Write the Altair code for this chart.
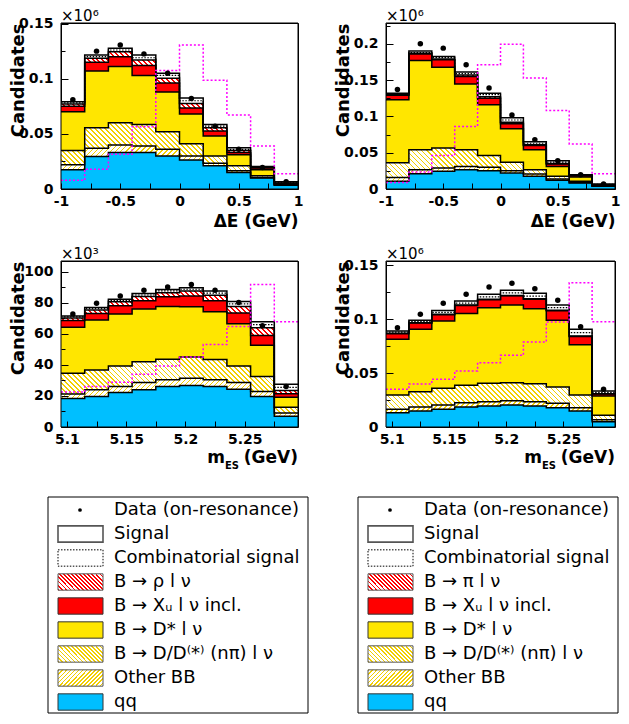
import altair as alt
import numpy as np
import pandas as pd

FONT = "DejaVu Sans"
BLUE = "#00bfff"
YEL = "#ffe600"
HYEL = "#f2cf00"
RED = "#ff0000"
MAG = "#ff00ff"

BANDS = ["qq", "obb", "dd", "dst", "xu", "excl", "comb", "sig"]

de_edges = [-1.0, -0.8, -0.6, -0.4, -0.2, 0.0, 0.2, 0.4, 0.6, 0.8, 1.0]
mes_edges = [5.095, 5.115, 5.135, 5.155, 5.175, 5.195, 5.215, 5.235, 5.255, 5.275, 5.295]

# ---- Panel A: B -> rho l nu, Delta E  (x 10^6) ----
rde_qq   = [0.0174, 0.0294, 0.0330, 0.0330, 0.0300, 0.0264, 0.0210, 0.0150, 0.0100, 0.0033]
rde_obb  = [0.0046, 0.0076, 0.0070, 0.0060, 0.0060, 0.0036, 0.0024, 0.0015, 0.0005, 0.0003]
rde_dd   = [0.0130, 0.0185, 0.0200, 0.0195, 0.0160, 0.0110, 0.0066, 0.0045, 0.0015, 0.0004]
rde_dst  = [0.0350, 0.0515, 0.0510, 0.0445, 0.0360, 0.0270, 0.0180, 0.0100, 0.0054, 0.0005]
rde_xu   = [0.0050, 0.0080, 0.0090, 0.0090, 0.0080, 0.0055, 0.0045, 0.0020, 0.0016, 0.0005]
rde_excl = [0.0020, 0.0035, 0.0045, 0.0050, 0.0045, 0.0040, 0.0030, 0.0020, 0.0007, 0.0005]
rde_comb = [0.0010, 0.0015, 0.0015, 0.0020, 0.0025, 0.0025, 0.0015, 0.0010, 0.0003, 0.0005]
rde_sig  = [0.0010, 0.0015, 0.0015, 0.0025, 0.0020, 0.0025, 0.0015, 0.0015, 0.0004, 0.0006]
rde_data = [0.0810, 0.1250, 0.1305, 0.1225, 0.1050, 0.0820, 0.0570, 0.0360, 0.0195, 0.0066]
rde_mag  = [0.0080, 0.0180, 0.0315, 0.0565, 0.1075, 0.1305, 0.0985, 0.0670, 0.0390, 0.0138]

# ---- Panel B: B -> pi l nu, Delta E  (x 10^6) ----
pde_qq   = [0.0106, 0.0210, 0.0243, 0.0266, 0.0250, 0.0220, 0.0174, 0.0120, 0.0083, 0.0037]
pde_obb  = [0.0054, 0.0056, 0.0047, 0.0044, 0.0050, 0.0030, 0.0033, 0.0018, 0.0007, 0.0003]
pde_dd   = [0.0200, 0.0274, 0.0275, 0.0230, 0.0160, 0.0120, 0.0059, 0.0036, 0.0016, 0.0003]
pde_dst  = [0.0870, 0.1230, 0.1110, 0.0905, 0.0700, 0.0460, 0.0274, 0.0136, 0.0059, 0.0007]
pde_xu   = [0.0060, 0.0090, 0.0105, 0.0105, 0.0090, 0.0070, 0.0060, 0.0034, 0.0019, 0.0005]
pde_excl = [0.0010, 0.0010, 0.0010, 0.0020, 0.0020, 0.0020, 0.0010, 0.0006, 0.0004, 0.0005]
pde_comb = [0.0010, 0.0010, 0.0020, 0.0020, 0.0030, 0.0030, 0.0020, 0.0020, 0.0004, 0.0004]
pde_sig  = [0.0010, 0.0020, 0.0015, 0.0020, 0.0020, 0.0030, 0.0020, 0.0020, 0.0005, 0.0005]
pde_data = [0.1370, 0.2000, 0.1940, 0.1710, 0.1390, 0.1020, 0.0680, 0.0390, 0.0197, 0.0069]
pde_mag  = [0.0090, 0.0234, 0.0460, 0.0860, 0.1710, 0.1995, 0.1530, 0.1080, 0.0620, 0.0210]

# ---- Panel C: B -> rho l nu, mES  (x 10^3) ----
rms_qq   = [18.3, 19.7, 22.3, 24.0, 26.1, 26.8, 26.1, 24.4, 19.7, 7.0]
rms_obb  = [2.9, 4.3, 3.8, 4.7, 4.3, 4.6, 4.3, 4.3, 3.2, 2.1]
rms_dd   = [13.4, 12.7, 13.2, 13.3, 13.3, 13.8, 13.1, 10.6, 9.6, 3.6]
rms_dst  = [29.7, 32.3, 33.5, 34.0, 34.0, 32.3, 30.8, 27.2, 20.2, 6.4]
rms_xu   = [4.3, 4.2, 5.3, 5.3, 6.2, 7.0, 7.0, 7.0, 6.3, 2.3]
rms_excl = [1.7, 2.2, 2.6, 2.8, 2.7, 3.2, 3.6, 4.2, 4.9, 2.2]
rms_comb = [0.7, 0.9, 0.9, 1.0, 1.1, 1.1, 1.4, 1.7, 2.1, 2.0]
rms_sig  = [0.5, 0.7, 0.8, 0.9, 1.0, 1.0, 1.4, 1.5, 1.9, 2.0]
rms_data = [72.8, 79.8, 84.5, 88.1, 90.2, 91.9, 88.1, 80.3, 65.2, 26.1]
rms_mag  = [22.5, 26.1, 28.9, 34.0, 39.3, 45.2, 53.1, 64.8, 91.9, 67.9]

# ---- Panel D: B -> pi l nu, mES  (x 10^6) ----
pms_qq   = [0.0133, 0.0148, 0.0164, 0.0186, 0.0195, 0.0204, 0.0195, 0.0179, 0.0148, 0.0049]
pms_obb  = [0.0031, 0.0038, 0.0040, 0.0040, 0.0040, 0.0040, 0.0040, 0.0041, 0.0031, 0.0019]
pms_dd   = [0.0133, 0.0142, 0.0155, 0.0161, 0.0170, 0.0167, 0.0167, 0.0151, 0.0118, 0.0040]
pms_dst  = [0.0516, 0.0578, 0.0624, 0.0667, 0.0702, 0.0721, 0.0696, 0.0619, 0.0467, 0.0180]
pms_xu   = [0.0052, 0.0059, 0.0059, 0.0074, 0.0073, 0.0085, 0.0088, 0.0088, 0.0076, 0.0018]
pms_excl = [0.0004, 0.0003, 0.0003, 0.0004, 0.0004, 0.0004, 0.0004, 0.0004, 0.0004, 0.0003]
pms_comb = [0.0011, 0.0012, 0.0018, 0.0018, 0.0023, 0.0024, 0.0025, 0.0025, 0.0031, 0.0013]
pms_sig  = [0.0010, 0.0010, 0.0017, 0.0019, 0.0024, 0.0023, 0.0025, 0.0025, 0.0031, 0.0012]
pms_data = [0.0920, 0.1045, 0.1147, 0.1231, 0.1299, 0.1333, 0.1283, 0.1175, 0.0931, 0.0350]
pms_mag  = [0.0350, 0.0400, 0.0442, 0.0520, 0.0597, 0.0665, 0.0788, 0.0974, 0.1339, 0.0977]

# ---- axis tick labels ----
de_labels = [-1, -0.5, 0, 0.5, 1]
de_ticks = [-1, -0.75, -0.5, -0.25, 0, 0.25, 0.5, 0.75, 1]
mes_labels = [5.1, 5.15, 5.2, 5.25]
mes_ticks = [5.1, 5.125, 5.15, 5.175, 5.2, 5.225, 5.25, 5.275]
yA_labels = [0, 0.05, 0.1, 0.15]
yA_minor = [0.025, 0.075, 0.125]
yB_labels = [0, 0.05, 0.1, 0.15, 0.2]
yB_minor = [0.025, 0.075, 0.125, 0.175, 0.225]
yC_labels = [0, 20, 40, 60, 80, 100]
yC_minor = [10, 30, 50, 70, 90]

LEG_ITEMS = ["data", "sig", "comb", "excl", "xu", "dst", "dd", "obb", "qq"]
LEG_L = ["Data (on-resonance)", "Signal", "Combinatorial signal", "B → ρ l ν",
         "B → Xᵤ l ν incl.", "B → D* l ν", "B → D/D⁽*⁾ (nπ) l ν", "Other BB", "qq"]
LEG_R = ["Data (on-resonance)", "Signal", "Combinatorial signal", "B → π l ν",
         "B → Xᵤ l ν incl.", "B → D* l ν", "B → D/D⁽*⁾ (nπ) l ν", "Other BB", "qq"]


def hatch(color, direction, W, H, period=5.0, frac=0.3):
    """Striped linear gradient imitating a ROOT hatch fill (45 degree lines)."""
    H = max(float(H), 1.0)
    r = W / H
    n = max(1, int(round((W + H) / period)))
    vy = (r + 1) / (r * r + 1)
    vx = r * vy
    if direction == "/":
        x1, y1, x2, y2 = 0, 0, vx, vy
    else:
        x1, y1, x2, y2 = 0, 1, vx, 1 - vy
    stops = []
    for k in range(n):
        a, b, c = k / n, (k + frac) / n, (k + 1) / n
        stops += [alt.GradientStop(color=color, offset=a),
                  alt.GradientStop(color=color, offset=b),
                  alt.GradientStop(color="white", offset=b),
                  alt.GradientStop(color="white", offset=c)]
    return alt.Gradient(gradient="linear", stops=stops, x1=x1, y1=y1, x2=x2, y2=y2)


def cum_bands(comps):
    lo = np.zeros(10)
    out = {}
    for b in BANDS:
        hi = lo + np.asarray(comps[b], dtype=float)
        out[b] = (lo.copy(), hi.copy())
        lo = hi
    return out


def band_df(edges, bands):
    rows = []
    for b in BANDS:
        lo, hi = bands[b]
        for i, e in enumerate(edges):
            j = min(i, 9)
            rows.append({"band": b, "x": e, "lo": float(lo[j]), "hi": float(hi[j])})
    return pd.DataFrame(rows)


def make_panel(edges, comps, data, mag, ymax, W, H, xlab, xtick, ylab, yminor, mult, kind):
    bands = cum_bands(comps)
    df = band_df(edges, bands)
    xs = alt.Scale(domain=[edges[0], edges[-1]], nice=False, zero=False)
    ys = alt.Scale(domain=[0, ymax], nice=False, zero=True)
    lab = dict(labelFont=FONT, labelFontWeight="bold", labelFontSize=14, labelColor="black",
               labelFlush=False, labelExpr="'' + datum.value", ticks=False, domain=False, grid=False)
    if kind == "de":
        xax = alt.Axis(values=xlab, labelPadding=5, title="ΔE (GeV)", titleFont=FONT,
                       titleFontSize=17, titleFontWeight="bold", titleColor="black",
                       titleAlign="right", titleBaseline="alphabetic", titleX=W, titleY=37, **lab)
    else:
        xax = alt.Axis(values=xlab, labelPadding=5, title=None, **lab)
    yax = alt.Axis(values=ylab, labelPadding=8, title="Candidates", titleFont=FONT,
                   titleFontSize=18, titleFontWeight="bold", titleColor="black", titleAngle=270,
                   titleAlign="right", titleBaseline="top", titleX=-52, titleY=0, **lab)
    tk = dict(labels=False, domain=False, grid=False, title=None, tickColor="black",
              tickWidth=1, ticks=True, zindex=1)
    xt = alt.Axis(orient="top", offset=-H, values=xtick, tickSize=6, **tk)
    ytM = alt.Axis(orient="right", offset=-W, values=ylab, tickSize=7, **tk)
    ytm = alt.Axis(orient="right", offset=-W, values=yminor, tickSize=4, **tk)

    def hpx(b):
        lo, hi = bands[b]
        return (hi.max() - lo.min()) / ymax * H

    fills = {
        "qq": BLUE,
        "obb": hatch(HYEL, "/", W, hpx("obb")),
        "dd": hatch(HYEL, "\\", W, hpx("dd")),
        "dst": YEL,
        "xu": RED,
        "excl": hatch(RED, "\\", W, hpx("excl"), frac=0.4),
        "comb": "white",
        "sig": "white",
    }
    base = alt.Chart(df)
    layers = []
    for b in BANDS:
        first = b == "qq"
        layers.append(
            base.transform_filter(alt.datum.band == b)
            .mark_area(interpolate="step-after", fill=fills[b], opacity=1, strokeWidth=0)
            .encode(x=alt.X("x:Q", scale=xs, axis=xax if first else None),
                    y=alt.Y("hi:Q", scale=ys, axis=yax if first else None),
                    y2="lo:Q")
        )
    layers.append(
        base.transform_filter(alt.datum.band != "comb")
        .mark_line(interpolate="step-after", color="black", strokeWidth=1.5)
        .encode(x=alt.X("x:Q", scale=xs, axis=None), y=alt.Y("hi:Q", scale=ys, axis=None),
                detail="band:N")
    )
    layers.append(
        base.transform_filter(alt.datum.band == "comb")
        .mark_line(interpolate="step-after", color="black", strokeWidth=1.2, strokeDash=[1.5, 1.5])
        .encode(x=alt.X("x:Q", scale=xs, axis=None), y=alt.Y("hi:Q", scale=ys, axis=None))
    )
    magdf = pd.DataFrame({"x": edges, "v": list(mag) + [mag[-1]]})
    layers.append(
        alt.Chart(magdf)
        .mark_line(interpolate="step-after", color=MAG, strokeWidth=1.5, strokeDash=[2, 2])
        .encode(x=alt.X("x:Q", scale=xs, axis=None), y=alt.Y("v:Q", scale=ys, axis=ytm))
    )
    centers = [(edges[i] + edges[i + 1]) / 2 for i in range(10)]
    pts = pd.DataFrame({"xc": centers, "v": data})
    layers.append(
        alt.Chart(pts).mark_circle(size=30, color="black", opacity=1)
        .encode(x=alt.X("xc:Q", scale=xs, axis=xt), y=alt.Y("v:Q", scale=ys, axis=ytM))
    )
    one = pd.DataFrame({"t": [mult]})
    layers.append(
        alt.Chart(one).mark_text(align="left", baseline="alphabetic", font=FONT, fontSize=15,
                                 color="black")
        .encode(x=alt.value(0), y=alt.value(-2), text="t:N")
    )
    if kind == "mes":
        for txt, dxr, dyv, fs in [("(GeV)", 0, 36, 17), ("ES", 59, 42, 10), ("m", 73, 36, 17)]:
            layers.append(
                alt.Chart(pd.DataFrame({"t": [txt]}))
                .mark_text(align="right", baseline="alphabetic", font=FONT, fontSize=fs,
                           fontWeight="bold", color="black")
                .encode(x=alt.value(W - dxr), y=alt.value(H + dyv), text="t:N")
            )
    layers.append(
        alt.Chart(one).mark_rect(fillOpacity=0, stroke="black", strokeWidth=1)
        .encode(x=alt.value(0), x2=alt.value(W), y=alt.value(0), y2=alt.value(H))
    )
    return (alt.layer(*layers)
            .resolve_axis(x="independent", y="independent")
            .properties(width=W, height=H))


def comps_of(qq, obb, dd, dst, xu, excl, comb, sig):
    return dict(qq=qq, obb=obb, dd=dd, dst=dst, xu=xu, excl=excl, comb=comb, sig=sig)


WL, WR, H = 237, 229, 166
pA = make_panel(de_edges, comps_of(rde_qq, rde_obb, rde_dd, rde_dst, rde_xu, rde_excl, rde_comb, rde_sig),
                rde_data, rde_mag, 0.1505, WL, H, de_labels, de_ticks, yA_labels, yA_minor, "×10⁶", "de")
pB = make_panel(de_edges, comps_of(pde_qq, pde_obb, pde_dd, pde_dst, pde_xu, pde_excl, pde_comb, pde_sig),
                pde_data, pde_mag, 0.2286, WR, H, de_labels, de_ticks, yB_labels, yB_minor, "×10⁶", "de")
pC = make_panel(mes_edges, comps_of(rms_qq, rms_obb, rms_dd, rms_dst, rms_xu, rms_excl, rms_comb, rms_sig),
                rms_data, rms_mag, 107, WL, H, mes_labels, mes_ticks, yC_labels, yC_minor, "×10³", "mes")
pD = make_panel(mes_edges, comps_of(pms_qq, pms_obb, pms_dd, pms_dst, pms_xu, pms_excl, pms_comb, pms_sig),
                pms_data, pms_mag, 0.154, WR, H, mes_labels, mes_ticks, yA_labels, yA_minor, "×10⁶", "mes")

# ---- legends ----
LH = 214
ysc = alt.Scale(domain=[(LH - 11) / 24, -11 / 24], nice=False, zero=False)
SW, SH = 45, 16
sw_style = {
    "sig": dict(fill="white", stroke="#555555", strokeWidth=1.6),
    "comb": dict(fill="white", stroke="black", strokeWidth=1, strokeDash=[1.5, 1.5]),
    "excl": dict(fill=hatch(RED, "\\", SW, SH, period=4.0, frac=0.45), stroke="#555555", strokeWidth=1),
    "xu": dict(fill=RED, stroke="#333333", strokeWidth=1),
    "dst": dict(fill=YEL, stroke="#333333", strokeWidth=1),
    "dd": dict(fill=hatch(HYEL, "\\", SW, SH, period=4.0, frac=0.4), stroke="#555555", strokeWidth=1),
    "obb": dict(fill=hatch(HYEL, "/", SW, SH, period=4.0, frac=0.4), stroke="#555555", strokeWidth=1),
    "qq": dict(fill=BLUE, stroke="#333333", strokeWidth=1),
}


def legend_chart(labels, left, width):
    d = pd.DataFrame({"item": LEG_ITEMS, "row": list(range(len(LEG_ITEMS))), "label": labels})
    d["lo"] = d["row"] - 0.34
    d["hi"] = d["row"] + 0.34
    one = pd.DataFrame({"t": [0]})
    out = [alt.Chart(one).mark_rect(fill="white", stroke="black", strokeWidth=1)
           .encode(x=alt.value(left), x2=alt.value(left + 260), y=alt.value(-2), y2=alt.value(LH))]
    for it in LEG_ITEMS[1:]:
        out.append(alt.Chart(d).transform_filter(alt.datum.item == it)
                   .mark_rect(**sw_style[it])
                   .encode(x=alt.value(left + 10), x2=alt.value(left + 55),
                           y=alt.Y("lo:Q", scale=ysc, axis=None), y2="hi:Q"))
    out.append(alt.Chart(d).transform_filter(alt.datum.item == "data")
               .mark_circle(size=14, color="black", opacity=1)
               .encode(x=alt.value(left + 32), y=alt.Y("row:Q", scale=ysc, axis=None)))
    out.append(alt.Chart(d).mark_text(align="left", baseline="middle", font=FONT, fontSize=18,
                                      color="black")
               .encode(x=alt.value(left + 66), y=alt.Y("row:Q", scale=ysc, axis=None), text="label:N"))
    return (alt.layer(*out)
            .properties(width=width, height=LH, view=alt.ViewBackground(stroke="transparent")))


legL = legend_chart(LEG_L, -13, WL)
legR = legend_chart(LEG_R, -28, WR)

chart = (alt.concat(pA, pB, pC, pD, legL, legR, columns=2,
                    spacing={"row": 72, "column": 88}, bounds="flush")
         .properties(padding=0, background="white")
         .configure_view(stroke="black", strokeWidth=1))

chart.save("out.html", embed_options={"renderer": "svg", "actions": False})
